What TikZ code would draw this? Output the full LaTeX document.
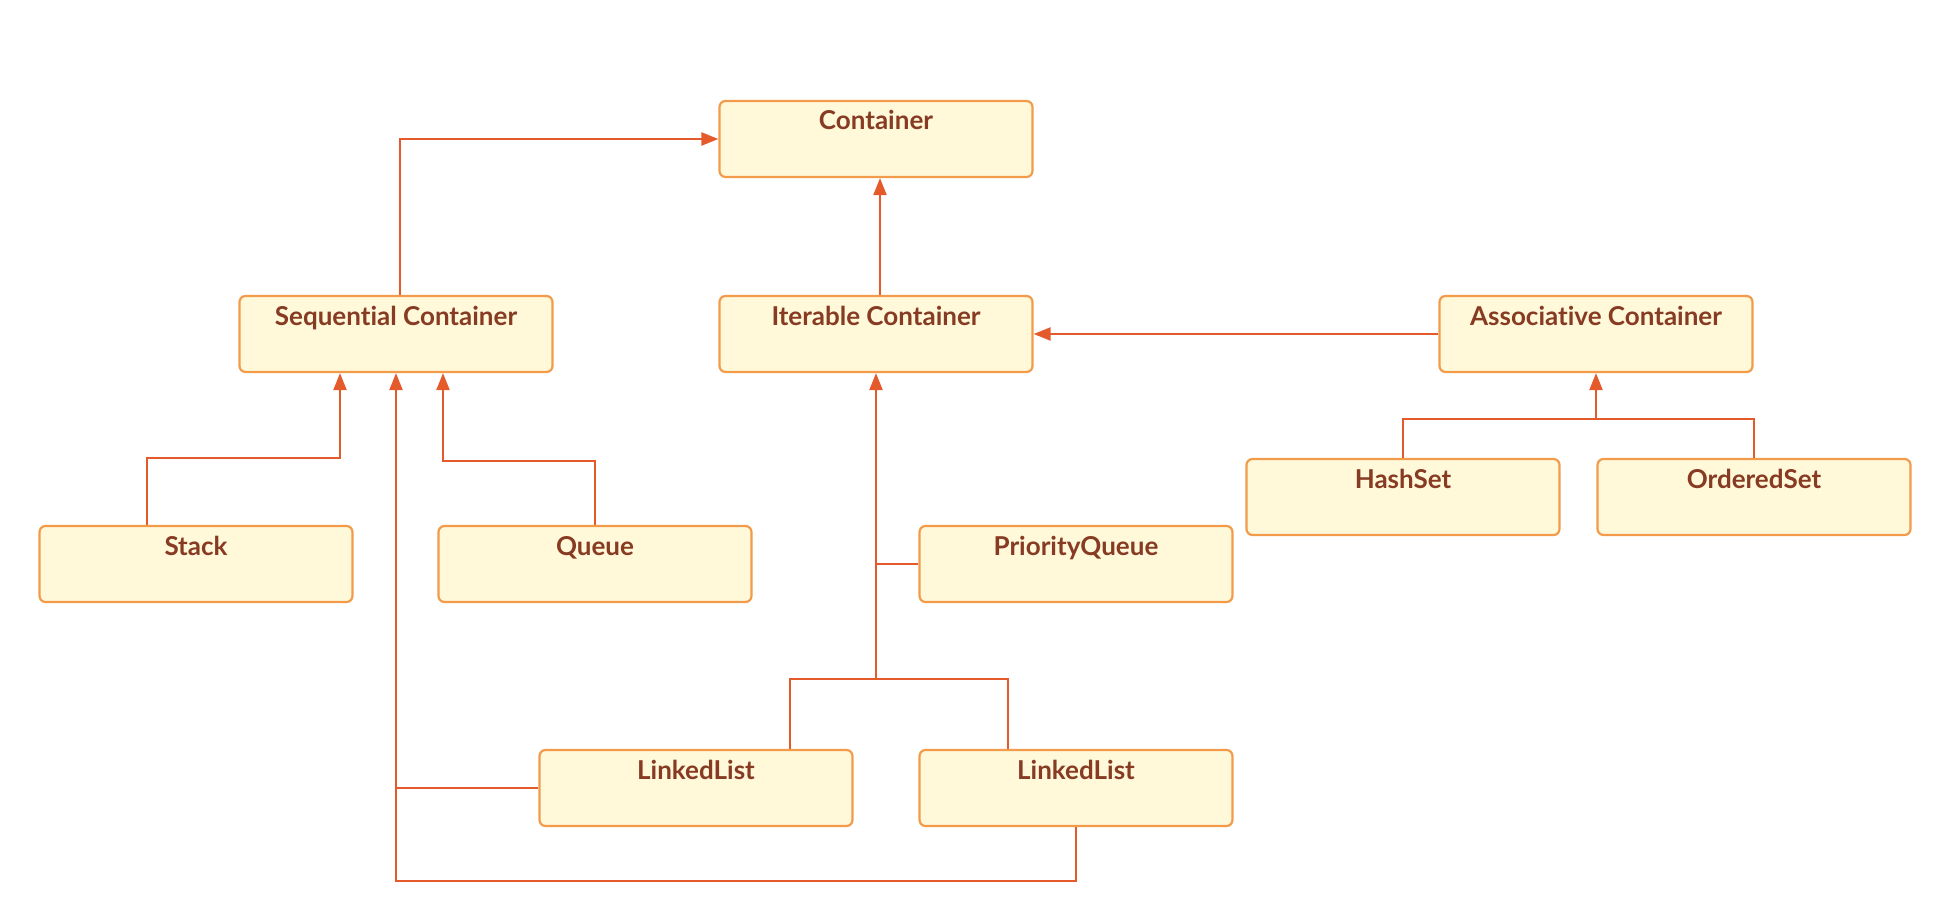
\documentclass[tikz,border=0pt]{standalone}
\usepackage{fontspec}
\setmainfont{Lato}[Ligatures={NoCommon}]
\usetikzlibrary{arrows.meta,calc}
\definecolor{boxfill}{HTML}{FFF8D9}
\definecolor{boxline}{HTML}{F29B4A}
\definecolor{linkline}{HTML}{E55A2B}
\definecolor{boxtext}{HTML}{873B23}
\tikzset{
  classbox/.style={draw=boxline, fill=boxfill, line width=2.2pt, rounded corners=6pt,
    minimum width=313pt, inner sep=0pt, text height=29pt, text depth=47pt,
    text=boxtext, font=\fontsize{26}{30}\selectfont\bfseries},
  link/.style={draw=linkline, line width=2.2pt},
  inherit/.style={link, -{Triangle[length=17pt,width=13pt]}},
}
\begin{document}
\begin{tikzpicture}[x=1pt,y=-1pt]
\useasboundingbox (0,0) rectangle (1951,920);
% Top of the hierarchy
\node[classbox] (cont) at (876, 139) {Container};
% Second level
   \node[classbox] (seq) at (396, 334) {Sequential Container};
   \node[classbox] (iter) at (876, 334) {Iterable Container};
   \node[classbox] (assoc) at (1596, 334) {Associative Container};
   % Leaf classes
   \node[classbox] (hash) at (1403, 497) {HashSet};
   \node[classbox] (ord) at (1754, 497) {OrderedSet};
   \node[classbox] (stack) at (196, 564) {Stack};
   \node[classbox] (queue) at (595, 564) {Queue};
   \node[classbox] (pq) at (1076, 564) {PriorityQueue};
   \node[classbox] (llone) at (696, 788) {LinkedList};
   \node[classbox] (lltwo) at (1076, 788) {LinkedList};
   %
   % Joints of the shared edges:
   \coordinate (setj) at (1596, 419);
   \coordinate (llj) at (876, 679);
   % Inheritance Edges to Container:
   \draw[inherit] ([xshift=4pt]seq.north) |- (cont.west);
   \draw[inherit] ([xshift=4pt]iter.north) -- ([xshift=4pt]cont.south);
   \draw[inherit] (assoc.west) -- (iter.east);
   % Sets
   \draw[link] (hash.north) |- (setj) -| (ord.north);
   \draw[inherit] (setj) -- (assoc.south);
   % Sequences
   \draw[inherit] ([xshift=-49pt]stack.north) -- ++(0,-67) -| ([xshift=-56pt]seq.south);
   \draw[inherit] (queue.north) -- ++(0,-64) -| ([xshift=47pt]seq.south);
   \draw[inherit] (lltwo.south) -- ++(0,54) -| (seq.south);
   \draw[link] (llone.west) -- (llone.west -| seq.south);
   % Iterables
   \draw[link] ([xshift=94pt]llone.north) |- (llj) -| ([xshift=-68pt]lltwo.north);
   \draw[inherit] (llj) -- (iter.south);
   \draw[link] (pq.west) -- (pq.west -| llj);
   \end{tikzpicture}
\end{document}
